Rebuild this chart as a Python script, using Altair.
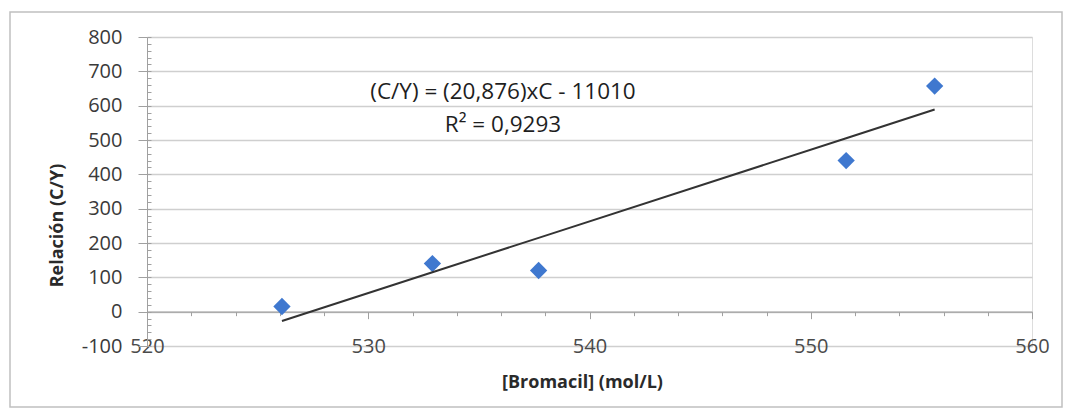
import altair as alt
import pandas as pd

# Data
bromacil = [526.1, 532.9, 537.7, 551.6, 555.6]
relacion = [15, 140, 120, 440, 657]

# Trendline equation shown on the chart: (C/Y) = 20.876 * C - 11010
slope = 20.876
intercept = -11010
eq_text = ["(C/Y) = (20,876)xC - 11010"]
r2_text = ["R² = 0,9293"]

x_ticks = [520, 530, 540, 550, 560]
x_minor = list(range(520, 561, 2))
y_ticks = list(range(-100, 801, 100))
y_minor = list(range(-100, 801, 20))

df = pd.DataFrame({"x": bromacil, "y": relacion})

FONT = "Open Sans"
LABEL = "#3a3a3a"
AXIS = "#a0a0a0"
GRID = "#cfcfcf"

xs = alt.Scale(domain=[520, 560], nice=False, zero=False)
ys = alt.Scale(domain=[-100, 800], nice=False, zero=False)

points = alt.Chart(df).mark_point(
    shape="diamond", filled=True, size=300, color="#3f78cf", opacity=1
).encode(
    x=alt.X("x:Q", scale=xs, axis=alt.Axis(
        values=x_ticks, domain=False, ticks=False, grid=False,
        labelBaseline="middle", labelPadding=0, labelFontSize=20,
        labelColor="#4a4a4a", labelFont=FONT, labelFlush=False,
        title="[Bromacil] (mol/L)", titleFont=FONT, titleFontSize=18,
        titleFontWeight="bold", titleColor="#2a2a2a", titlePadding=17,
        titleX=435)),
    y=alt.Y("y:Q", scale=ys, axis=alt.Axis(
        values=y_ticks, grid=True, gridColor=GRID, gridWidth=1.3,
        domain=True, domainColor=AXIS, tickSize=9, tickColor=AXIS,
        labelPadding=16, labelFontSize=20, labelColor=LABEL, labelFont=FONT,
        labelExpr="replace(datum.label, '\u2212', '-')",
        title="Relación (C/Y)", titleFont=FONT, titleFontSize=18,
        titleFontWeight="bold", titleColor="#2a2a2a",
        titleBaseline="middle", titleX=-90, titleY=188)),
)

trend = alt.Chart(df).transform_calculate(
    fit=f"{slope} * datum.x + ({intercept})"
).mark_line(color="#333333", strokeWidth=2).encode(
    x=alt.X("x:Q", scale=xs, axis=alt.Axis(
        orient="bottom", offset=-34.33, values=x_minor, labels=False,
        domain=True, domainColor=AXIS, domainWidth=1.3, ticks=True,
        tickColor=AXIS,
        tickSize={"condition": {"test": "datum.value % 10 === 0", "value": 7}, "value": 4},
        grid=False, title=None)),
    y=alt.Y("fit:Q", scale=ys, axis=alt.Axis(
        orient="right", offset=-885, values=y_minor, labels=False,
        domain=False, ticks=True, tickSize=4, tickColor=AXIS,
        grid=False, title=None)),
)

eq = alt.Chart(pd.DataFrame({"t": eq_text})).mark_text(
    font=FONT, fontSize=22.5, color="#1e1e1e", align="center", baseline="middle"
).encode(text="t:N", x=alt.value(356), y=alt.value(55))

r2 = alt.Chart(pd.DataFrame({"t": r2_text})).mark_text(
    font=FONT, fontSize=22.5, color="#1e1e1e", align="center", baseline="middle"
).encode(text="t:N", x=alt.value(356), y=alt.value(88))

frame = alt.Chart(pd.DataFrame({"a": [0]})).mark_rect(
    fill=None, stroke="#c0c0c0", strokeWidth=1.5
).encode(x=alt.value(-137), x2=alt.value(915), y=alt.value(-25), y2=alt.value(370))

chart = alt.layer(frame, points, trend, eq, r2).resolve_axis(
    x="independent", y="independent"
).properties(
    width=885, height=309,
    autosize=alt.AutoSizeParams(type="none"),
    padding={"left": 139, "top": 29, "right": 32, "bottom": 63},
).configure_view(stroke=None).configure(background="white")

chart.save("out.html", embed_options={"renderer": "svg", "actions": False})
